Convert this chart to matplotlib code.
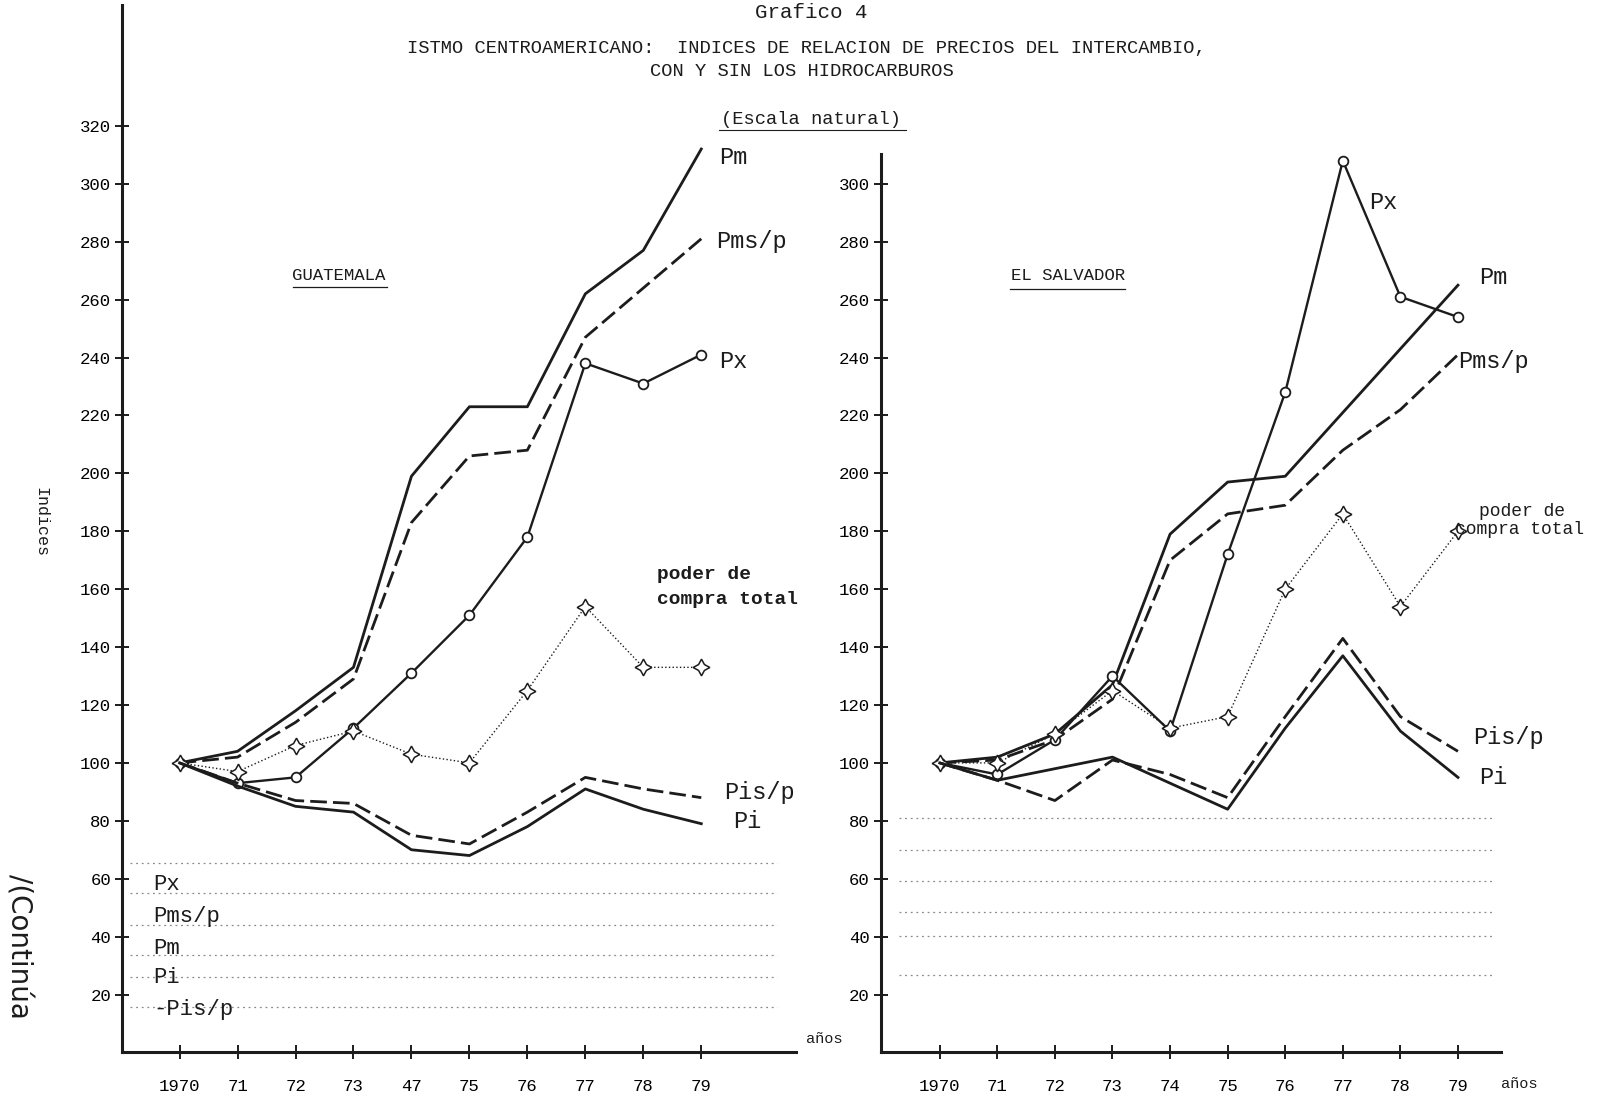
import matplotlib.pyplot as plt

# years on both panels
years = [1970, 1971, 1972, 1973, 1974, 1975, 1976, 1977, 1978, 1979]
gt_year_labels = ["1970", "71", "72", "73", "47", "75", "76", "77", "78", "79"]
sv_year_labels = ["1970", "71", "72", "73", "74", "75", "76", "77", "78", "79"]

# Guatemala
gt_pm = [100, 104, 118, 133, 199, 223, 223, 262, 277, 312]
gt_pms = [100, 102, 114, 129, 183, 206, 208, 247, 264, 281]
gt_px = [100, 93, 95, 112, 131, 151, 178, 238, 231, 241]
gt_poder = [100, 97, 106, 111, 103, 100, 125, 154, 133, 133]
gt_pis = [100, 93, 87, 86, 75, 72, 83, 95, 91, 88]
gt_pi = [100, 92, 85, 83, 70, 68, 78, 91, 84, 79]

# El Salvador
sv_pm = [100, 102, 110, 127, 179, 197, 199, 221, 243, 265]
sv_pms = [100, 101, 108, 122, 170, 186, 189, 208, 222, 241]
sv_px = [100, 96, 108, 130, 111, 172, 228, 308, 261, 254]
sv_poder = [100, 100, 110, 125, 112, 116, 160, 186, 154, 180]
sv_pis = [100, 94, 87, 101, 96, 88, 116, 143, 116, 104]
sv_pi = [100, 94, 98, 102, 93, 84, 112, 137, 111, 95]

gt_yticks = list(range(20, 321, 20))
sv_yticks = list(range(20, 301, 20))

# typed key at the bottom of the Guatemala panel
key_names = ["Px", "Pms/p", "Pm", "Pi", "-Pis/p"]
key_levels = [58, 47, 36, 26, 15]
gt_rule_levels = [65.6, 55, 44, 33.7, 26.2, 15.6]
sv_rule_levels = [80.9, 69.9, 59.2, 48.6, 40.1, 26.6]

MONO = "Liberation Mono"
INK = "#1c1c1c"

W, H = 1568.0, 1083.0
def fx(x):
    return x / W
def fy(y):
    return 1 - y / H

fig = plt.figure(figsize=(16.1, 11.12), dpi=100)
fig.patch.set_facecolor("white")

ax1 = fig.add_axes([fx(119), fy(1025), (775 - 119) / W, (1025 - 5) / H])
ax2 = fig.add_axes([fx(858), fy(1025), (1462 - 858) / W, (1025 - 150) / H])


def draw_panel(ax, pm, pms, px, poder, pis, pi):
    ax.plot(years, pm, color=INK, lw=2.0, solid_joinstyle="round")
    ax.plot(years, pms, color=INK, lw=2.0, dashes=(6, 2.2))
    ax.plot(years, px, color=INK, lw=1.7, marker="o", ms=7, mfc="white",
            mec=INK, mew=1.3)
    ax.plot(years, poder, color=INK, lw=1.0, ls=":", marker=(4, 1, 0), ms=12,
            mfc="white", mec=INK, mew=1.1)
    ax.plot(years, pis, color=INK, lw=2.0, dashes=(6, 2.2))
    ax.plot(years, pi, color=INK, lw=2.0)


def style_axis(ax, yticks, xlabels):
    for s in ["top", "right"]:
        ax.spines[s].set_visible(False)
    for s in ["left", "bottom"]:
        ax.spines[s].set_linewidth(2.2)
        ax.spines[s].set_color(INK)
    ax.set_yticks(yticks)
    ax.set_yticklabels([str(v) for v in yticks], family=MONO, fontsize=12.5)
    ax.set_xticks(years)
    ax.set_xticklabels(xlabels, family=MONO, fontsize=12.5)
    ax.tick_params(direction="inout", length=10, width=1.4, color=INK)
    ax.tick_params(axis="x", pad=14)
    ax.tick_params(axis="y", pad=3)


draw_panel(ax1, gt_pm, gt_pms, gt_px, gt_poder, gt_pis, gt_pi)
draw_panel(ax2, sv_pm, sv_pms, sv_px, sv_poder, sv_pis, sv_pi)
style_axis(ax1, gt_yticks, gt_year_labels)
style_axis(ax2, sv_yticks, sv_year_labels)
ax1.set_xlim(1969.01, 1980.63)
ax1.set_ylim(0, 361.7)
ax2.set_xlim(1968.98, 1979.75)
ax2.set_ylim(0, 310.3)

# faint typed rules
ax1.hlines(gt_rule_levels, 1969.15, 1980.3, colors="#8a8a8a", lw=0.9,
           linestyles=(0, (1.5, 3)))
ax2.hlines(sv_rule_levels, 1969.3, 1979.6, colors="#8a8a8a", lw=0.9,
           linestyles=(0, (1.5, 3)))
for name, lev in zip(key_names, key_levels):
    ax1.text(1969.55, lev, name, family=MONO, fontsize=16, va="center",
             color=INK)

# series labels, Guatemala
lab = dict(family=MONO, fontsize=17, color=INK, va="center")
ax1.text(1979.3, 309, "Pm", **lab)
ax1.text(1979.25, 280, "Pms/p", **lab)
ax1.text(1979.3, 238.6, "Px", **lab)
ax1.text(1979.4, 89.7, "Pis/p", **lab)
ax1.text(1979.55, 79.8, "Pi", **lab)
ax1.text(1978.24, 165, "poder de", family=MONO, fontsize=14,
         weight="bold", color=INK, va="center")
ax1.text(1978.24, 156.5, "compra total", family=MONO, fontsize=14,
         weight="bold", color=INK, va="center")
ax1.text(1980.8, 4.5, "años", family=MONO, fontsize=11, color=INK,
         va="center")

# series labels, El Salvador
ax2.text(1977.45, 293.6, "Px", **lab)
ax2.text(1979.36, 267.7, "Pm", **lab)
ax2.text(1979.0, 238.7, "Pms/p", **lab)
ax2.text(1979.27, 108.9, "Pis/p", **lab)
ax2.text(1979.36, 95, "Pi", **lab)
ax2.text(1979.36, 187, "poder de", family=MONO, fontsize=13, color=INK,
         va="center")
ax2.text(1978.95, 180.5, "compra total", family=MONO, fontsize=13,
         color=INK, va="center")
ax2.text(1979.75, -11, "años", family=MONO, fontsize=11, color=INK,
         va="center")

# headings
fig.text(fx(790), fy(12), "Grafico 4", family=MONO, fontsize=15,
         ha="center", va="center", color=INK)
fig.text(fx(785), fy(47),
         "ISTMO CENTROAMERICANO:  INDICES DE RELACION DE PRECIOS DEL INTERCAMBIO,",
         family=MONO, fontsize=13.5, ha="center", va="center", color=INK)
fig.text(fx(781), fy(70), "CON Y SIN LOS HIDROCARBUROS", family=MONO,
         fontsize=13.5, ha="center", va="center", color=INK)
fig.text(fx(790), fy(116), "(Escala natural)", family=MONO, fontsize=13.5,
         ha="center", va="center", color=INK)
fig.add_artist(plt.Line2D([fx(700), fx(882)], [fy(127), fy(127)],
                          transform=fig.transFigure, color=INK, lw=0.8))

fig.text(fx(330), fy(268), "GUATEMALA", family=MONO, fontsize=12.5,
         ha="center", va="center", color=INK)
fig.add_artist(plt.Line2D([fx(285), fx(377)], [fy(280), fy(280)],
                          transform=fig.transFigure, color=INK, lw=0.9))
fig.text(fx(1040), fy(268), "EL SALVADOR", family=MONO, fontsize=12.5,
         ha="center", va="center", color=INK)
fig.add_artist(plt.Line2D([fx(984), fx(1096)], [fy(281), fy(281)],
                          transform=fig.transFigure, color=INK, lw=0.9))

fig.text(fx(40), fy(508), "Indices", family=MONO, fontsize=12,
         rotation=270, ha="center", va="center", color=INK)
fig.text(fx(18), fy(922), "/(Continúa", family="DejaVu Sans", fontsize=20,
         rotation=270, ha="center", va="center", color=INK)

fig.savefig("out.png", dpi=100, facecolor="white")
